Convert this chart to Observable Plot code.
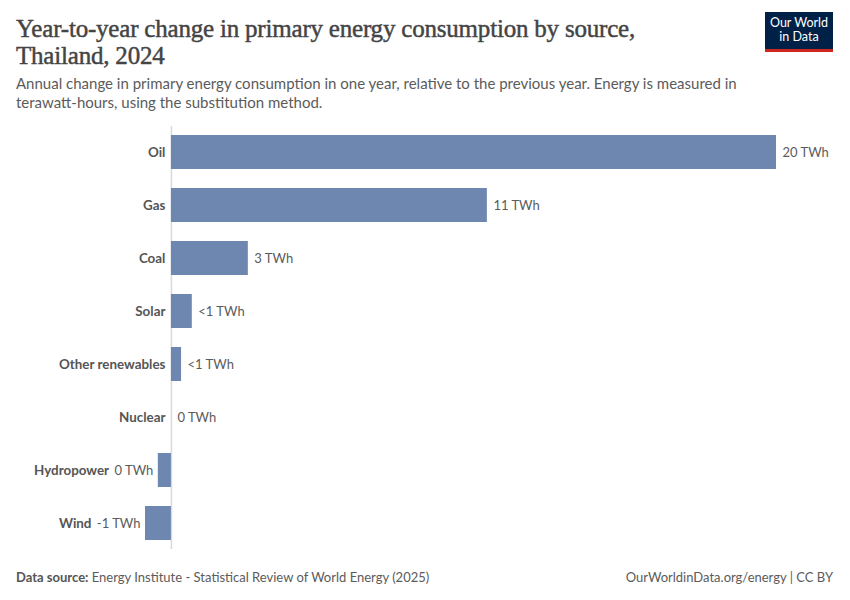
<!DOCTYPE html>
<html><head><meta charset="utf-8">
<script src="https://cdn.jsdelivr.net/npm/d3@7"></script>
<script src="https://cdn.jsdelivr.net/npm/@observablehq/plot@0.6"></script>
<style>
body{margin:0;background:#fff;font-family:Lato,sans-serif;}
#wrap{position:relative;width:850px;height:600px;overflow:hidden;}
#title{position:absolute;left:16px;top:15px;font-family:"Liberation Serif",serif;font-size:25px;line-height:27px;color:#444;letter-spacing:-0.2px;-webkit-text-stroke:0.45px #444;}
#subtitle{position:absolute;left:16px;top:74px;width:760px;font-size:15px;line-height:19px;color:#5b5b5b;}
#logo{position:absolute;left:765px;top:12px;width:68px;height:33px;background:#002147;border-bottom:3px solid #ce261e;color:#fff;font-size:12.5px;line-height:14px;text-align:center;padding-top:4px;}
#chart{position:absolute;left:0;top:117px;}
#footer-l{position:absolute;left:16px;top:569px;font-size:13px;color:#5b5b5b;}
#footer-l b{font-weight:700;color:#555;}
#footer-r{position:absolute;right:17px;top:569px;font-size:13px;color:#5b5b5b;}
</style></head>
<body><div id="wrap">
<div id="title">Year-to-year change in primary energy consumption by source,<br>Thailand, 2024</div>
<div id="subtitle">Annual change in primary energy consumption in one year, relative to the previous year. Energy is measured in terawatt-hours, using the substitution method.</div>
<div id="logo">Our World<br>in Data</div>
<div id="chart"></div>
<div id="footer-l"><b>Data source:</b> Energy Institute - Statistical Review of World Energy (2025)</div>
<div id="footer-r">OurWorldinData.org/energy | CC BY</div>
</div>
<script>
const categories = ["Oil","Gas","Coal","Solar","Other renewables","Nuclear","Hydropower","Wind"];
const values = [20.3, 10.6, 2.58, 0.7, 0.34, 0, -0.44, -0.87];
const valueLabels = ["20 TWh","11 TWh","3 TWh","<1 TWh","<1 TWh","0 TWh","0 TWh","-1 TWh"];

const data = categories.map((c, i) => ({source: c, value: values[i], label: valueLabels[i]}));
const pos = data.filter(d => d.value >= 0);
const neg = data.filter(d => d.value < 0);

const ctx = document.createElement("canvas").getContext("2d");
ctx.font = "13px Lato";
const tw = s => ctx.measureText(s).width;

const catStyle = {fill: "#555", fontWeight: 700, fontSize: 13.4};
const valStyle = {fill: "#5b5b5b", fontSize: 13};

const plot = Plot.plot({
  width: 850, height: 440,
  marginTop: 9, marginBottom: 8, marginLeft: 145, marginRight: 74,
  x: {axis: null},
  y: {axis: null, domain: categories, paddingInner: 0.36, paddingOuter: 0.15},
  style: {fontFamily: "Lato", background: "#fff"},
  marks: [
    Plot.ruleX([0], {stroke: "#d9d9d9", strokeWidth: 1.5}),
    Plot.barX(data, {x: "value", y: "source", fill: "#6e87b0"}),
    Plot.text(pos, {x: "value", y: "source", text: "label", textAnchor: "start", dx: 6, ...valStyle}),
    Plot.text(neg, {x: "value", y: "source", text: "label", textAnchor: "end", dx: -5, ...valStyle}),
    Plot.text(pos, {x: () => 0, y: "source", text: "source", textAnchor: "end", dx: -6, ...catStyle}),
    ...neg.map(d => Plot.text([d], {x: "value", y: "source", text: "source", textAnchor: "end", dx: -5 - tw(d.label) - 5, ...catStyle}))
  ]
});
document.getElementById("chart").append(plot);
</script>
</body></html>
